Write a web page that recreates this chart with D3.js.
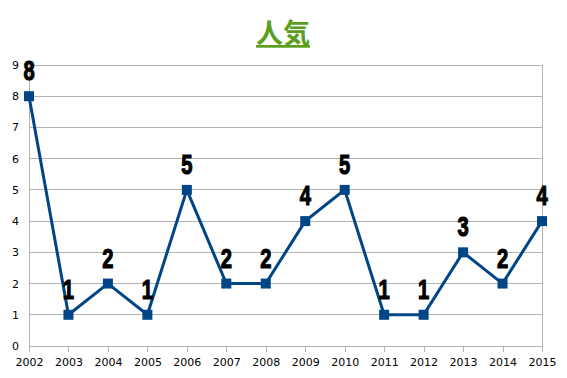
<!DOCTYPE html>
<html><head><meta charset="utf-8">
<script src="https://cdn.jsdelivr.net/npm/d3@7"></script>
<style>body{margin:0;background:#fff;}</style>
</head><body>
<svg id="c" width="567" height="378"></svg>
<script>
const years = ["2002","2003","2004","2005","2006","2007","2008","2009","2010","2011","2012","2013","2014","2015"];
const values = [8,1,2,1,5,2,2,4,5,1,1,3,2,4];
const yTicks = [0,1,2,3,4,5,6,7,8,9];
const title = "人気";

const svg = d3.select("#c");
const m = {l:29, r:542, t:65, b:346};
const x = d3.scalePoint().domain(years).range([m.l, m.r]);
const y = d3.scaleLinear().domain([0,9]).range([m.b, m.t]);

// gridlines
svg.append("g").selectAll("line").data(yTicks).join("line")
  .attr("x1", m.l).attr("x2", m.r).attr("y1", d=>y(d)).attr("y2", d=>y(d))
  .attr("stroke", "#b3b3b3").attr("stroke-width", 1).attr("shape-rendering","crispEdges");
// right border
svg.append("line").attr("x1", m.r).attr("x2", m.r).attr("y1", m.t).attr("y2", m.b)
  .attr("stroke", "#b3b3b3").attr("shape-rendering","crispEdges");

// y axis
const ya = svg.append("g").attr("transform", `translate(${m.l},0)`)
  .call(d3.axisLeft(y).tickValues(yTicks).tickSize(0).tickPadding(10).tickFormat(d3.format("d")));
ya.select(".domain").attr("stroke", "#b3b3b3").attr("shape-rendering","crispEdges");
ya.selectAll("text").attr("font-family","DejaVu Sans").attr("font-size", 11).attr("fill","#000");

// x axis
const xa = svg.append("g").attr("transform", `translate(0,${m.b})`)
  .call(d3.axisBottom(x).tickSize(6).tickPadding(6));
xa.select(".domain").attr("stroke", "#b3b3b3").attr("shape-rendering","crispEdges");
xa.selectAll("line").attr("stroke", "#b3b3b3").attr("shape-rendering","crispEdges");
xa.selectAll("text").attr("font-family","DejaVu Sans").attr("font-size", 11).attr("fill","#000");

// line
svg.append("path").datum(values.map((v,i)=>[years[i],v]))
  .attr("fill","none").attr("stroke","#004586").attr("stroke-width",3)
  .attr("d", d3.line().x(d=>x(d[0])).y(d=>y(d[1])));

// markers
svg.append("g").selectAll("rect").data(values).join("rect")
  .attr("x", (d,i)=>x(years[i])-5).attr("y", d=>y(d)-5)
  .attr("width",10).attr("height",10).attr("fill","#004586");

// labels (narrow, tall, heavy)
svg.append("g").selectAll("text").data(values).join("text")
  .attr("transform", (d,i)=>`translate(${x(years[i])},${y(d)-16}) scale(0.72,1)`)
  .attr("text-anchor","middle")
  .attr("font-family","'Liberation Sans', Arial, sans-serif")
  .attr("font-weight","bold").attr("font-size", 28)
  .attr("fill","#000").attr("stroke","#000").attr("stroke-width",1.2)
  .text(d=>d);

// title
svg.append("text").attr("x", 283).attr("y", 43).attr("text-anchor","middle")
  .attr("font-family","'Noto Sans CJK JP'").attr("font-weight","bold").attr("font-size", 27)
  .attr("fill","#5a9e1e").attr("text-decoration","underline").text(title);
</script>
</body></html>
